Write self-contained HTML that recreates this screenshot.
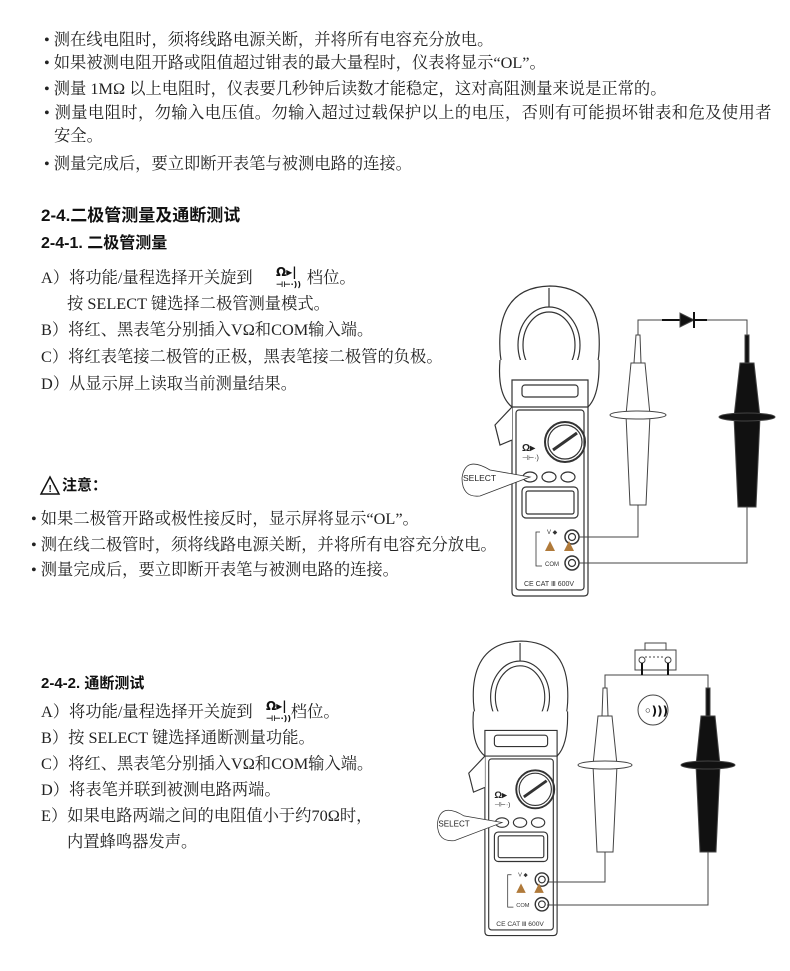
<!DOCTYPE html>
<html><head><meta charset="utf-8"><style>
body{margin:0;width:790px;height:971px;background:#fff;position:relative;overflow:hidden;font-family:"Liberation Serif","Noto Serif CJK SC",serif;color:#222;}
.t{position:absolute;font-size:16.3px;line-height:22px;white-space:nowrap;}
.h{position:absolute;font-family:"Liberation Sans","Noto Sans CJK SC",sans-serif;font-weight:bold;font-size:17px;line-height:22px;white-space:nowrap;color:#111;}
svg{position:absolute;left:0;top:0;}
</style></head><body>
<div class="t" style="left:44px;top:29px">• 测在线电阻时，须将线路电源关断，并将所有电容充分放电。</div>
<div class="t" style="left:44px;top:52px">• 如果被测电阻开路或阻值超过钳表的最大量程时，仪表将显示“OL”。</div>
<div class="t" style="left:44px;top:78px">• 测量 1MΩ 以上电阻时，仪表要几秒钟后读数才能稳定，这对高阻测量来说是正常的。</div>
<div class="t" style="left:44px;top:102px;letter-spacing:0.4px">• 测量电阻时，勿输入电压值。勿输入超过过载保护以上的电压，否则有可能损坏钳表和危及使用者</div>
<div class="t" style="left:54px;top:125px">安全。</div>
<div class="t" style="left:44px;top:153px">• 测量完成后，要立即断开表笔与被测电路的连接。</div>

<div class="h" style="left:41px;top:205px">2-4.二极管测量及通断测试</div>
<div class="h" style="left:41px;top:233px;font-size:16px">2-4-1. 二极管测量</div>
<div class="t" style="left:41px;top:267px">A）将功能/量程选择开关旋到 <span style="display:inline-block;width:46px"></span> 档位。</div>
<div class="t" style="left:67px;top:293px">按 SELECT 键选择二极管测量模式。</div>
<div class="t" style="left:41px;top:319px">B）将红、黑表笔分别插入VΩ和COM输入端。</div>
<div class="t" style="left:41px;top:346px">C）将红表笔接二极管的正极，黑表笔接二极管的负极。</div>
<div class="t" style="left:41px;top:373px">D）从显示屏上读取当前测量结果。</div>

<div class="h" style="left:62px;top:475px;font-size:15px">注意：</div>
<div class="t" style="left:31px;top:508px">• 如果二极管开路或极性接反时，显示屏将显示“OL”。</div>
<div class="t" style="left:31px;top:534px">• 测在线二极管时，须将线路电源关断，并将所有电容充分放电。</div>
<div class="t" style="left:31px;top:559px">• 测量完成后，要立即断开表笔与被测电路的连接。</div>

<div class="h" style="left:41px;top:673px;font-size:15px">2-4-2. 通断测试</div>
<div class="t" style="left:41px;top:701px">A）将功能/量程选择开关旋到 <span style="display:inline-block;width:30px"></span> 档位。</div>
<div class="t" style="left:41px;top:727px">B）按 SELECT 键选择通断测量功能。</div>
<div class="t" style="left:41px;top:753px">C）将红、黑表笔分别插入VΩ和COM输入端。</div>
<div class="t" style="left:41px;top:779px">D）将表笔并联到被测电路两端。</div>
<div class="t" style="left:41px;top:805px">E）如果电路两端之间的电阻值小于约70Ω时，</div>
<div class="t" style="left:67px;top:831px">内置蜂鸣器发声。</div>

<svg width="790" height="971" viewBox="0 0 790 971">
<defs>
<g id="meter" fill="none" stroke="#333" stroke-width="1.2">
  <path d="M512 385 Q498 370 500 335 Q504 287 550 286 Q596 287 599 335 Q601 370 588 385 Z" fill="#fff"/>
  <ellipse cx="549" cy="345" rx="31" ry="38"/>
  <ellipse cx="549" cy="345" rx="26" ry="33"/>
  <line x1="549" y1="288" x2="549" y2="307"/>
  <path d="M500 360 Q497 395 512 407 L512 592 Q512 596 516 596 L584 596 Q588 596 588 592 L588 407 Q600 395 599 360" fill="#fff"/>
  <path d="M512 380 L588 380 L588 407 L512 407 Z" fill="#fff"/>
  <rect x="522" y="385" width="56" height="12" rx="3"/>
  <path d="M512 407 L495 425 L500 445 L512 440" fill="#fff"/>
  <rect x="516" y="410" width="68" height="180" rx="3"/>
  <circle cx="565" cy="442" r="20" stroke-width="2"/>
  <circle cx="565" cy="442" r="17"/>
  <line x1="553" y1="450" x2="577" y2="433" stroke-width="3"/>
  <text x="522" y="451" font-size="10" font-weight="bold" fill="#222" stroke="none" font-family="Liberation Sans,sans-serif">Ω▸</text>
  <text x="522" y="460" font-size="7" fill="#222" stroke="none" font-family="Liberation Sans,sans-serif">⊣⊢·)</text>
  <ellipse cx="530" cy="477" rx="7" ry="5"/>
  <ellipse cx="549" cy="477" rx="7" ry="5"/>
  <ellipse cx="568" cy="477" rx="7" ry="5"/>
  <rect x="522" y="487" width="56" height="31" rx="4"/>
  <rect x="526" y="491" width="48" height="23" rx="2"/>
  <circle cx="572" cy="537" r="7" stroke-width="1.5"/><circle cx="572" cy="537" r="3.5"/>
  <circle cx="572" cy="563" r="7" stroke-width="1.5"/><circle cx="572" cy="563" r="3.5"/>
  <polygon points="550,541 555,551 545,551" fill="#b07a3a" stroke="none"/>
  <polygon points="569,541 574,551 564,551" fill="#b07a3a" stroke="none"/>
  <path d="M540 532 L536 532 L536 566 L542 566" stroke-width="0.8"/>
  <text x="547" y="534" font-size="6" fill="#333" stroke="none" font-family="Liberation Sans,sans-serif">V ◆</text>
  <text x="545" y="566" font-size="6" fill="#333" stroke="none" font-family="Liberation Sans,sans-serif">COM</text>
  <text x="524" y="586" font-size="7" fill="#333" stroke="none" font-family="Liberation Sans,sans-serif">CE   CAT Ⅲ 600V</text>
  <path d="M530 477 L490 470 Q465 455 462 478 Q462 498 480 496 Z" fill="#fff" stroke-width="0.8"/>
  <text x="463" y="481" font-size="8.5" fill="#222" stroke="none" font-family="Liberation Sans,sans-serif">SELECT</text>
</g>
</defs>
<use href="#meter"/>
<g transform="translate(521,643) scale(0.95) translate(-550,-288)"><use href="#meter"/></g>

<g stroke="#444" stroke-width="1" fill="none">
  <path d="M579 537 L638 537 L638 505"/>
  <path d="M579 563 L747 563 L747 507"/>
  <path d="M638 335 L638 320 L747 320 L747 335"/>
  <line x1="662" y1="320" x2="707" y2="320" stroke="#111" stroke-width="2"/>
  <polygon points="680,313 680,327 694,320" fill="#111"/>
  <line x1="694" y1="312" x2="694" y2="328" stroke="#111" stroke-width="2"/>
  <path d="M636 335 L640 335 L641 363 L634 363 Z" fill="#fff"/>
  <path d="M631 363 L645 363 L650 415 L646 505 L630 505 L626 415 Z" fill="#fff"/>
  <ellipse cx="638" cy="415" rx="28" ry="4" fill="#fff"/>
  <rect x="745" y="335" width="4" height="28" fill="#111"/>
  <path d="M740 363 L754 363 L760 417 L756 507 L738 507 L734 417 Z" fill="#111"/>
  <ellipse cx="747" cy="417" rx="28" ry="4" fill="#111"/>
</g>
<g stroke="#444" stroke-width="1" fill="none">
  <path d="M547 882 L605 882 L605 852"/>
  <path d="M547 905 L708 905 L708 852"/>
  <path d="M605 688 L605 675 L708 675 L708 688"/>
  <rect x="635" y="650" width="41" height="20" fill="#fff"/>
  <rect x="645" y="643" width="21" height="7" fill="#fff"/>
  <circle cx="642" cy="660" r="3"/><circle cx="668" cy="660" r="3"/>
  <line x1="645" y1="657" x2="665" y2="657" stroke-dasharray="2,2"/>
  <line x1="642" y1="663" x2="642" y2="675" stroke="#111" stroke-width="2"/>
  <line x1="668" y1="663" x2="668" y2="675" stroke="#111" stroke-width="2"/>
  <circle cx="653" cy="710" r="15" fill="#fff"/>
  <text x="644" y="715" font-size="12" font-weight="bold" fill="#111" stroke="none" font-family="DejaVu Sans,sans-serif">◦)))</text>
  <path d="M603 688 L607 688 L608 716 L602 716 Z" fill="#fff"/>
  <path d="M598 716 L612 716 L617 765 L613 852 L597 852 L593 765 Z" fill="#fff"/>
  <ellipse cx="605" cy="765" rx="27" ry="4" fill="#fff"/>
  <rect x="706" y="688" width="4" height="28" fill="#111"/>
  <path d="M701 716 L715 716 L720 765 L716 852 L700 852 L696 765 Z" fill="#111"/>
  <ellipse cx="708" cy="765" rx="27" ry="4" fill="#111"/>
</g>
<g font-family="DejaVu Sans,sans-serif" fill="#111" font-weight="bold">
  <text x="276" y="276" font-size="12">Ω▸|</text>
  <text x="276" y="287" font-size="8">⊣⊢·))</text>
  <text x="266" y="710" font-size="12">Ω▸|</text>
  <text x="266" y="721" font-size="8">⊣⊢·))</text>
</g>
<path d="M50 477 L59 494 L41 494 Z" fill="none" stroke="#111" stroke-width="1.5"/>
<text x="48.5" y="492" font-size="10" font-weight="bold" fill="#111" font-family="Liberation Sans,sans-serif">!</text>
</svg>
</body></html>
